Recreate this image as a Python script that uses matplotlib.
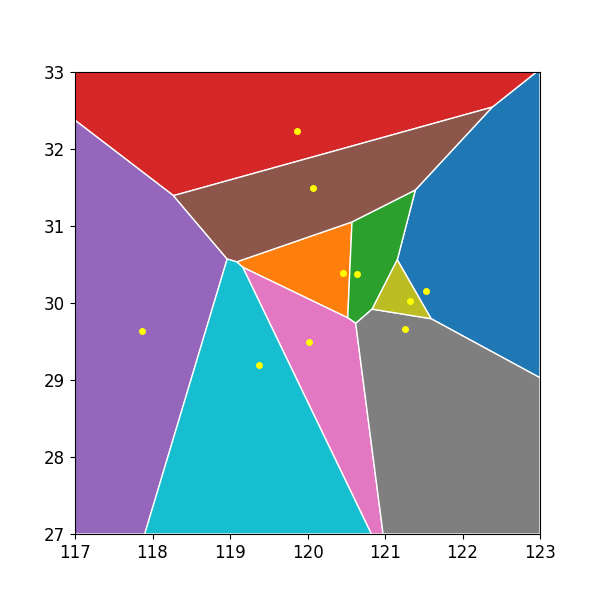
import numpy as np
import matplotlib
matplotlib.use("Agg")
import matplotlib.pyplot as plt

# site coordinates (lon, lat)
lon = [121.53, 120.454, 120.635, 119.861, 117.861, 120.067, 120.023, 121.262, 121.323, 119.378]
lat = [30.150, 30.388, 30.380, 32.236, 29.642, 31.499, 29.499, 29.659, 30.032, 29.190]
colors = ['tab:blue', 'tab:orange', 'tab:green', 'tab:red', 'tab:purple',
          'tab:brown', 'tab:pink', 'tab:gray', 'tab:olive', 'tab:cyan']
xlim = (117, 123)
ylim = (27, 33)


def clip(poly, a, b, c):
    # keep the part of poly where a*x + b*y <= c
    out = []
    n = len(poly)
    for i in range(n):
        p = poly[i]
        q = poly[(i + 1) % n]
        fp = a * p[0] + b * p[1] - c
        fq = a * q[0] + b * q[1] - c
        if fp <= 0:
            out.append(p)
        if fp * fq < 0:
            t = fp / (fp - fq)
            out.append((p[0] + t * (q[0] - p[0]), p[1] + t * (q[1] - p[1])))
    return out


pts = np.column_stack([lon, lat])
box = [(xlim[0], ylim[0]), (xlim[1], ylim[0]), (xlim[1], ylim[1]), (xlim[0], ylim[1])]

fig, ax = plt.subplots(figsize=(6, 6), dpi=100)

for i, p in enumerate(pts):
    cell = list(box)
    for j, q in enumerate(pts):
        if i == j:
            continue
        d = q - p
        m = (p + q) / 2
        cell = clip(cell, d[0], d[1], d @ m)
    cell = np.array(cell)
    ax.fill(cell[:, 0], cell[:, 1], color=colors[i], edgecolor='white', linewidth=1)

ax.scatter(lon, lat, color='yellow', s=16, zorder=3)
ax.set_xlim(*xlim)
ax.set_ylim(*ylim)
ax.tick_params(labelsize=12)

plt.savefig('out.png')
